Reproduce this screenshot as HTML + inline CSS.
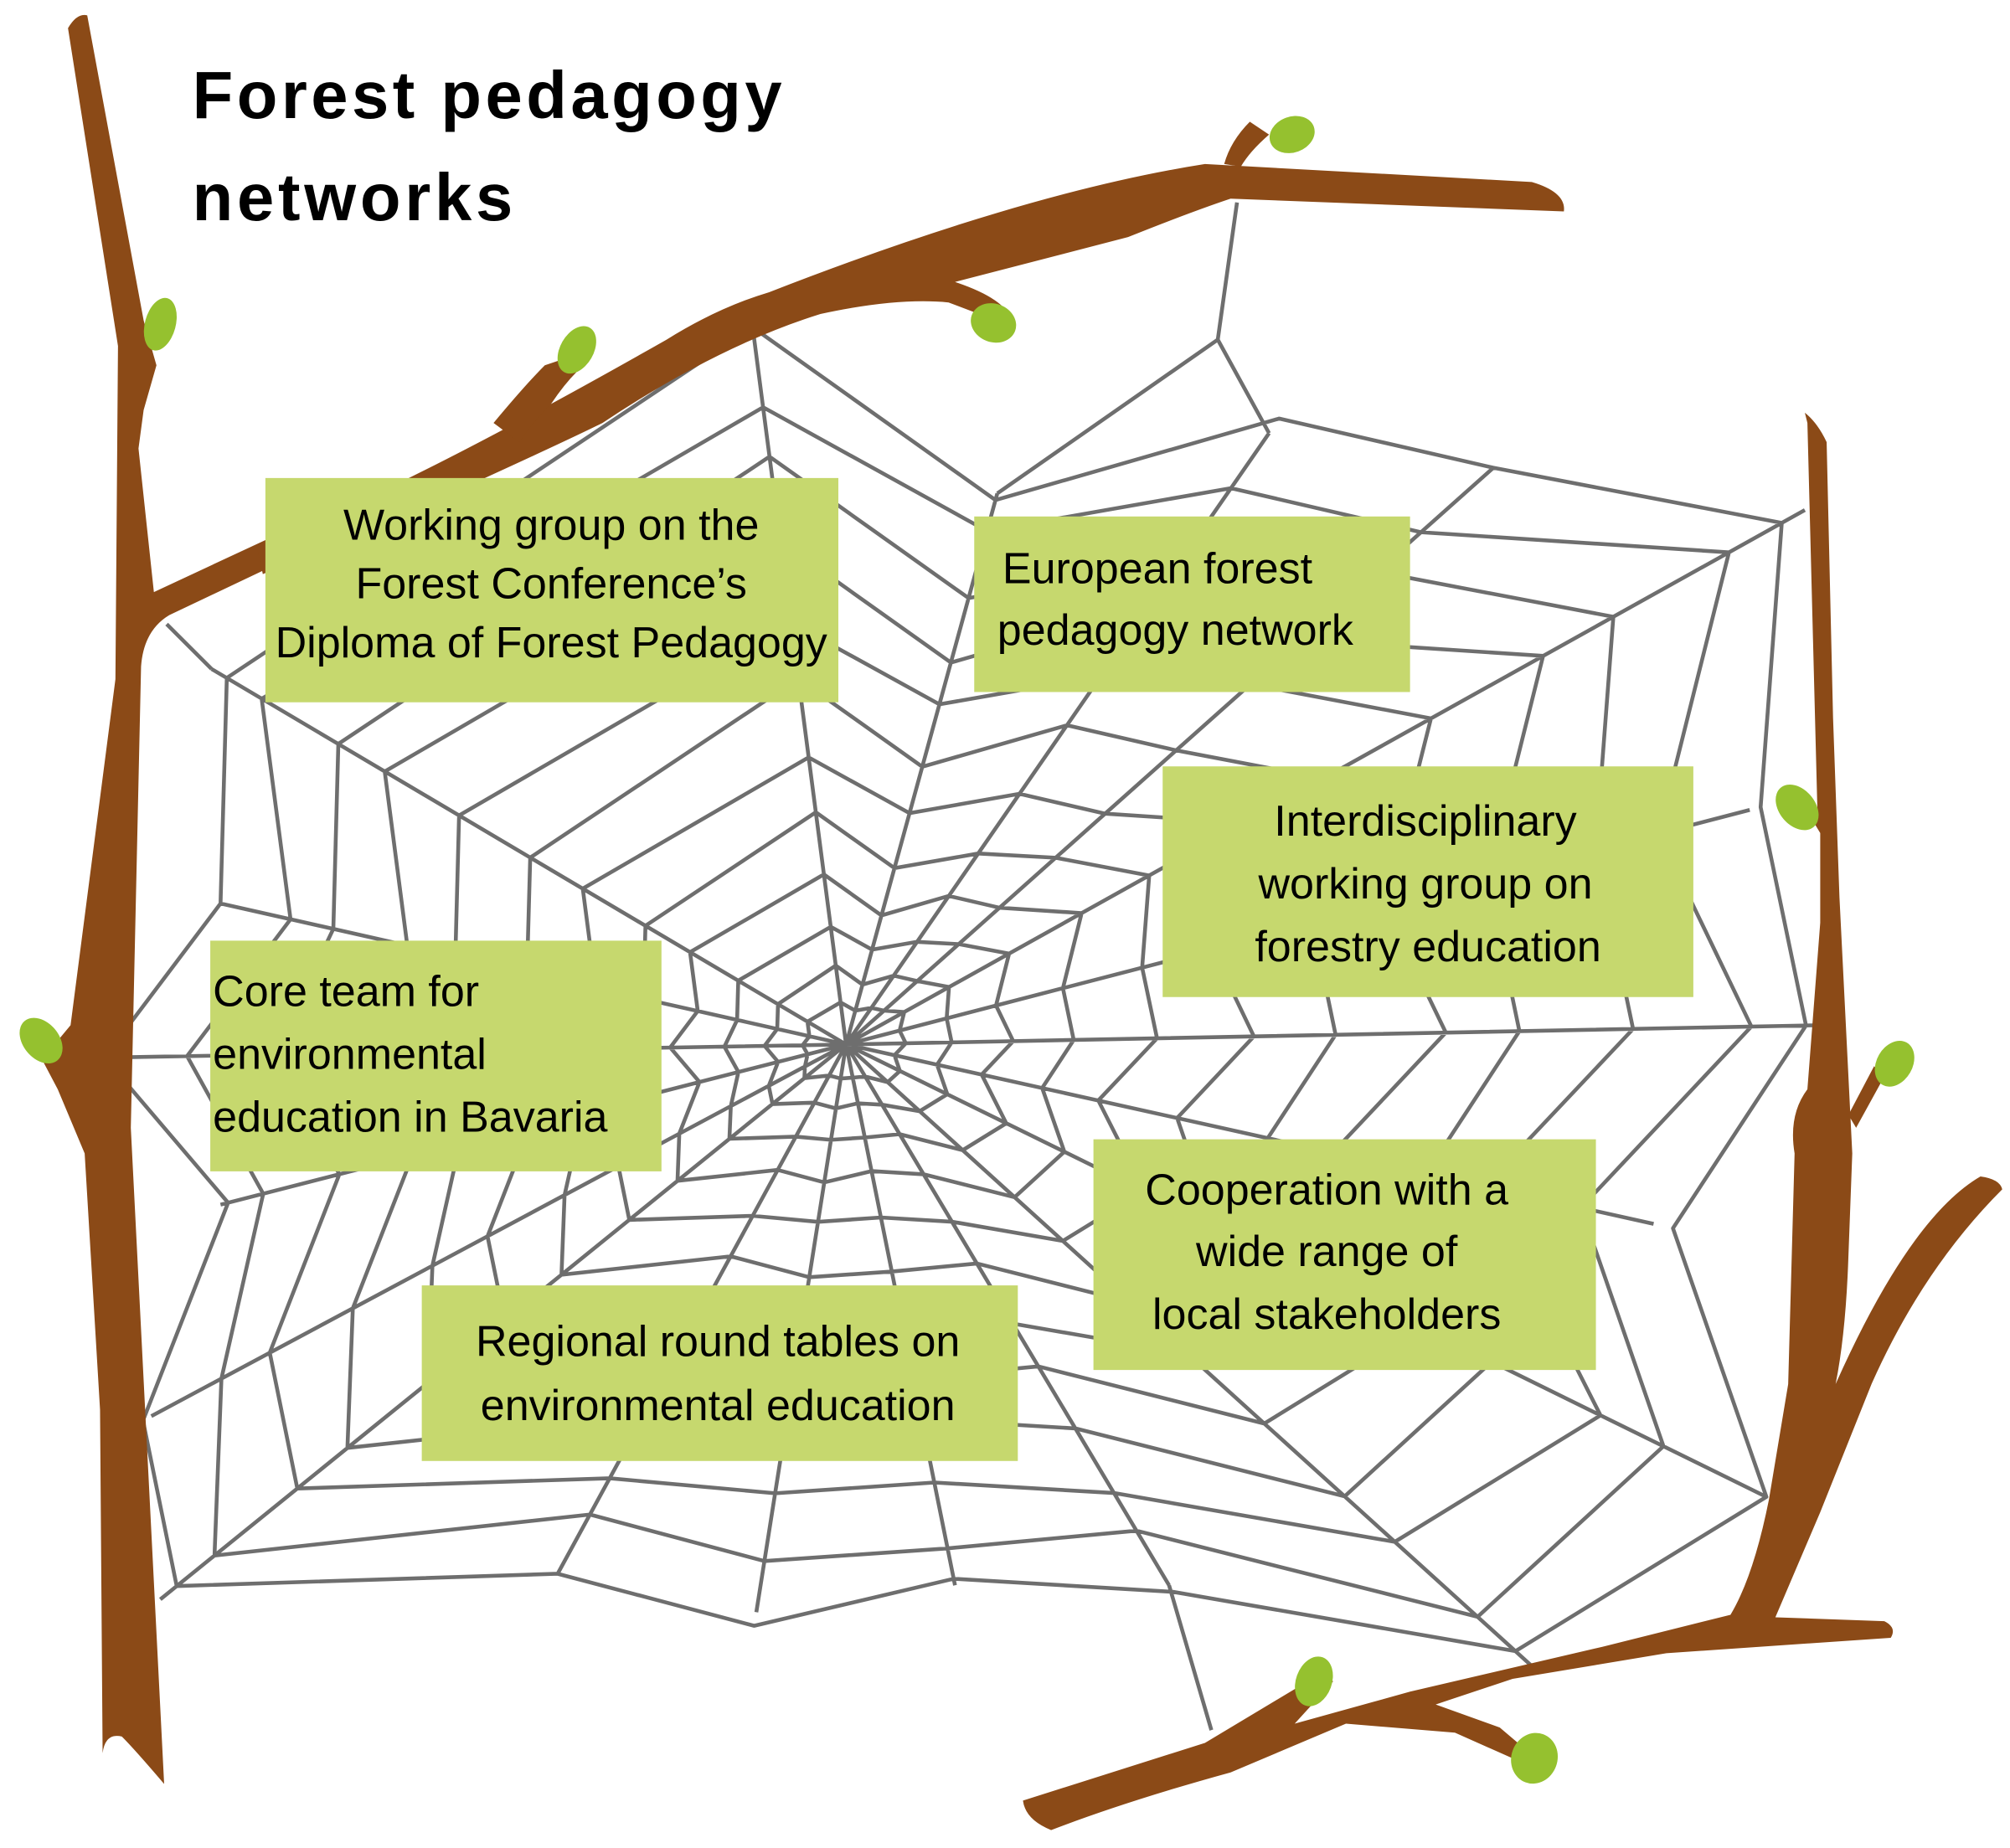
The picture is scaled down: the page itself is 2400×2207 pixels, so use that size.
<!DOCTYPE html>
<html><head><meta charset="utf-8"><style>
html,body{margin:0;padding:0;background:#fff;}
svg{display:block;}
text{font-family:"Liberation Sans",sans-serif;fill:#000;}
</style></head><body>
<svg id="s" width="2400" height="2207" viewBox="0 0 1568 1442" xmlns="http://www.w3.org/2000/svg">
<g id="web" stroke="#6e6e6e" stroke-width="3" fill="none" stroke-linejoin="round"></g>
<g fill="#8B4A17">
<path d="M53,22 Q60,10 68,12 L112,250 L122,285 L112,320 L108,350 L120,462 L210,420 L212,442 L132,480 Q112,492 110,520 L102,880 L128,1392 Q105,1365 95,1355 Q82,1352 80,1368 L78,1100 L66,900 L45,850 L25,812 L40,818 L55,800 L90,530 L92,270 Z"/>
<path d="M200,425 Q300,390 520,265 Q560,240 600,228 Q800,150 940,128 L1195,142 Q1222,150 1220,165 L960,155 Q930,165 880,185 L745,220 Q790,235 790,255 L740,236 Q700,232 640,245 Q560,270 470,330 Q440,345 330,395 Q260,425 205,448 Z"/>
<path d="M385,330 Q410,300 425,285 L440,280 L450,290 Q440,300 430,315 Q415,330 405,345 Z"/>
<path d="M955,128 Q960,110 975,95 L990,105 Q975,118 968,130 Z"/>
<path d="M1408,322 Q1418,330 1425,345 L1430,560 L1435,700 L1440,800 L1445,900 L1442,980 Q1440,1040 1432,1080 Q1490,950 1545,918 Q1560,920 1562,928 Q1500,990 1460,1080 L1420,1180 L1385,1262 L1470,1265 Q1480,1270 1475,1278 L1300,1290 L1180,1310 L1120,1330 L1170,1348 L1190,1365 L1180,1372 L1135,1352 L1050,1345 L960,1383 Q880,1405 820,1428 Q800,1420 798,1405 L940,1360 L1010,1318 L1030,1305 L1040,1312 L1010,1345 L1100,1320 L1250,1285 L1350,1260 Q1368,1230 1380,1170 L1395,1080 L1400,900 Q1395,870 1410,850 L1420,720 L1420,650 L1402,620 L1418,640 L1410,330 Z"/>
<path d="M1442,870 L1462,832 L1470,840 L1448,880 Z"/>
</g>
<g fill="#95C12F">
<ellipse cx="125" cy="253" rx="12" ry="21" transform="rotate(15 125 253)"/>
<ellipse cx="450" cy="273" rx="13" ry="20" transform="rotate(30 450 273)"/>
<ellipse cx="1008" cy="105" rx="18" ry="14" transform="rotate(-20 1008 105)"/>
<ellipse cx="775" cy="252" rx="18" ry="15" transform="rotate(20 775 252)"/>
<ellipse cx="1402" cy="630" rx="14" ry="20" transform="rotate(-40 1402 630)"/>
<ellipse cx="1478" cy="830" rx="14" ry="19" transform="rotate(30 1478 830)"/>
<ellipse cx="32" cy="812" rx="14" ry="20" transform="rotate(-40 32 812)"/>
<ellipse cx="1025" cy="1312" rx="14" ry="20" transform="rotate(20 1025 1312)"/>
<ellipse cx="1197" cy="1372" rx="18" ry="20" transform="rotate(20 1197 1372)"/>
</g>
<text x="150" y="92" font-size="52" font-weight="bold" textLength="460" lengthAdjust="spacing">Forest  pedagogy</text>
<text x="150" y="172" font-size="52" font-weight="bold" textLength="250" lengthAdjust="spacing">networks</text>
<g fill="#C6D86E">
<rect x="207" y="373" width="447" height="175"/>
<rect x="760" y="403" width="340" height="137"/>
<rect x="907" y="598" width="414" height="180"/>
<rect x="164" y="734" width="352" height="180"/>
<rect x="853" y="889" width="392" height="180"/>
<rect x="329" y="1003" width="465" height="137"/>
</g>
<g font-size="34">
<text x="430" y="421" text-anchor="middle">Working group on the</text>
<text x="430" y="467" text-anchor="middle">Forest Conference’s</text>
<text x="430" y="513" text-anchor="middle">Diploma of Forest Pedagogy</text>
<text x="782" y="455">European forest</text>
<text x="778" y="503">pedagogy network</text>
<text x="1112" y="652" text-anchor="middle">Interdisciplinary</text>
<text x="1112" y="701" text-anchor="middle">working group on</text>
<text x="1114" y="750" text-anchor="middle">forestry education</text>
<text x="166" y="785">Core team for</text>
<text x="166" y="834">environmental</text>
<text x="166" y="883">education in Bavaria</text>
<text x="1035" y="940" text-anchor="middle">Cooperation with a</text>
<text x="1035" y="988" text-anchor="middle">wide range of</text>
<text x="1035" y="1037" text-anchor="middle">local stakeholders</text>
<text x="560" y="1058" text-anchor="middle">Regional round tables on</text>
<text x="560" y="1108" text-anchor="middle">environmental education</text>
</g>
<script>
(function(){
var C=[660,815];
var P=[[588,262],[778,385],[990,338],[1165,365],[1408,398],[1365,632],[1418,800],[1290,955],[1378,1168],[1195,1300],[912,1237],[745,1237],[590,1258],[435,1228],[125,1248],[118,1105],[172,940],[95,825],[172,705],[165,522]];
P.sort(function(a,b){return Math.atan2(a[1]-C[1],a[0]-C[0])-Math.atan2(b[1]-C[1],b[0]-C[0]);});
var T=[0.06,0.11,0.17,0.24,0.32,0.41,0.51,0.61,0.71,0.81,0.91,1];
var g=document.getElementById('web');var ns='http://www.w3.org/2000/svg';var d='';
P.forEach(function(p){d+='M'+C[0]+','+C[1]+'L'+p[0]+','+p[1];});
T.forEach(function(t,k){
 P.forEach(function(p,i){var j=(k*7+i*3)%5-2;var tt=t*(1+j*0.012);
  d+=(i?'L':'M')+(C[0]+(p[0]-C[0])*tt).toFixed(1)+','+(C[1]+(p[1]-C[1])*tt).toFixed(1);});
 d+='Z';});
d+='M778,385L950,265L990,338M950,265L965,158M912,1237L945,1350M165,522L130,487';
var e=document.createElementNS(ns,'path');e.setAttribute('d',d);g.appendChild(e);
})();
</script>
</svg>
</body></html>
